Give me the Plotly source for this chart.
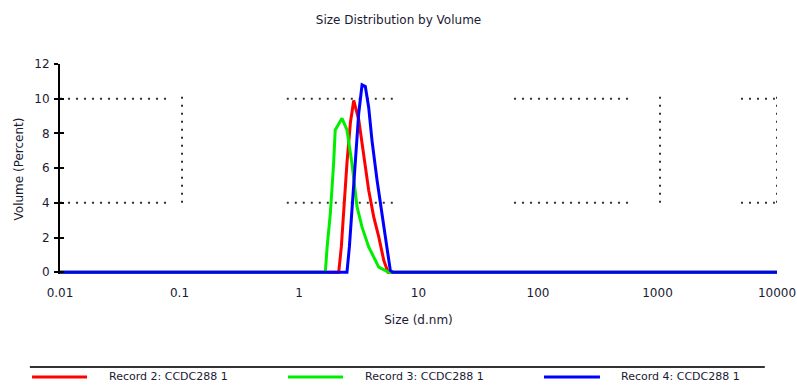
import plotly.graph_objects as go

# Size distribution by volume, three records
red_size = [0.01, 2.15, 2.26, 2.36, 2.52, 2.69, 2.87, 3.16, 3.48, 3.83, 4.22, 4.65, 5.12, 5.56, 10000]
red_vol = [0, 0, 1.46, 3.4, 6.3, 8.6, 9.9, 8.8, 6.85, 4.73, 3.19, 2.04, 0.69, 0, 0]

green_size = [0.01, 1.66, 1.72, 1.83, 1.95, 2.01, 2.29, 2.52, 2.77, 3.06, 3.37, 3.83, 4.65, 5.63, 10000]
green_vol = [0, 0, 1.46, 3.4, 6.3, 8.2, 8.87, 8.2, 6.3, 3.77, 2.6, 1.46, 0.3, 0, 0]

blue_size = [0.01, 2.52, 2.64, 2.77, 2.96, 3.16, 3.37, 3.59, 3.83, 4.08, 4.50, 4.95, 5.45, 5.81, 6.08, 10000]
blue_vol = [0, 0, 1.46, 3.4, 6.3, 9.15, 10.8, 10.7, 9.5, 7.6, 5.3, 3.4, 1.46, 0.1, 0, 0]

series_names = ["Record 2: CCDC288 1", "Record 3: CCDC288 1", "Record 4: CCDC288 1"]
series_colors = ["#ff0000", "#00ee00", "#0000ff"]

x_ticks = [0.01, 0.1, 1, 10, 100, 1000, 10000]
x_tick_text = ["0.01", "0.1", "1", "10", "100", "1000", "10000"]
y_ticks = [0, 2, 4, 6, 8, 10, 12]

# dotted grid fragments: (x0, x1, y) horizontal and (x, y0, y1) vertical
h_grid = [(0.01, 0.079, 10), (0.01, 0.079, 4),
          (0.79, 6.3, 10), (0.79, 6.3, 4),
          (63, 576, 10), (63, 576, 4),
          (5000, 9600, 10), (5000, 9600, 4)]
v_grid = [(0.105, 4, 10.2), (1050, 4, 10.2), (10000, 4, 10.2)]

# legend layout in paper units: key line start/end and label start
legend_keys = [(-0.039, 0.0377, 0.0656), (0.318, 0.3947, 0.4226), (0.675, 0.7531, 0.7796)]
legend_y = -0.49
separator_y = -0.443

FONT = "DejaVu Sans, Verdana, sans-serif"
TEXT = "#1a1a33"

fig = go.Figure()

for (x0, x1, yv) in h_grid:
    fig.add_shape(type="line", xref="x", yref="y", x0=x0, x1=x1, y0=yv, y1=yv,
                  line=dict(color="#333333", width=2, dash="2px,6px"), layer="below")
for (xv, y0, y1) in v_grid:
    fig.add_shape(type="line", xref="x", yref="y", x0=xv, x1=xv, y0=y0, y1=y1,
                  line=dict(color="#333333", width=2, dash="2px,6px"), layer="below")

for xs, ys, name, col in zip([red_size, green_size, blue_size],
                             [red_vol, green_vol, blue_vol],
                             series_names, series_colors):
    fig.add_trace(go.Scatter(x=xs, y=ys, mode="lines", name=name,
                             line=dict(color=col, width=3), showlegend=False))

# separator line above the legend
fig.add_shape(type="line", xref="paper", yref="paper", x0=-0.042, x1=0.983,
              y0=separator_y, y1=separator_y, line=dict(color="#333333", width=2))

# legend row: coloured key line + label
for (k0, k1, tx), name, col in zip(legend_keys, series_names, series_colors):
    fig.add_shape(type="line", xref="paper", yref="paper", x0=k0, x1=k1,
                  y0=legend_y, y1=legend_y, line=dict(color=col, width=3))
    fig.add_annotation(xref="paper", yref="paper", x=tx, y=legend_y, text=name,
                       showarrow=False, xanchor="left", yanchor="middle",
                       font=dict(size=11, color=TEXT))

fig.update_layout(
    width=797, height=385,
    margin=dict(l=60, r=20, t=64, b=111, autoexpand=False),
    paper_bgcolor="white", plot_bgcolor="white",
    font=dict(family=FONT, size=12, color=TEXT),
    title=dict(text="Size Distribution by Volume", x=0.5, xanchor="center",
               y=0.948, yanchor="middle", font=dict(size=12, color=TEXT)),
    xaxis=dict(type="log", range=[-2, 4], tickvals=x_ticks, ticktext=x_tick_text,
               showgrid=False, zeroline=False, showline=False, ticks="",
               ticklabelstandoff=10,
               title=dict(text="Size (d.nm)", standoff=16, font=dict(size=12))),
    yaxis=dict(range=[-0.1, 12], tickvals=y_ticks, showgrid=False, zeroline=False,
               showline=True, linecolor="black", linewidth=2,
               ticks="outside", ticklen=4, tickwidth=2, tickcolor="black",
               ticklabelstandoff=2,
               title=dict(text="Volume (Percent)", standoff=8, font=dict(size=12))),
    yaxis2=dict(range=[-0.1, 12], tickvals=y_ticks, overlaying="y", side="left",
                showgrid=False, zeroline=False, showline=False, showticklabels=False,
                ticks="inside", ticklen=4, tickwidth=2, tickcolor="black"),
    showlegend=False,
)

# invisible trace to bind the inner-tick overlay axis
fig.add_trace(go.Scatter(x=[0.01], y=[0], yaxis="y2", mode="markers",
                         marker=dict(opacity=0), showlegend=False, hoverinfo="skip"))

fig.write_html("out.html")
